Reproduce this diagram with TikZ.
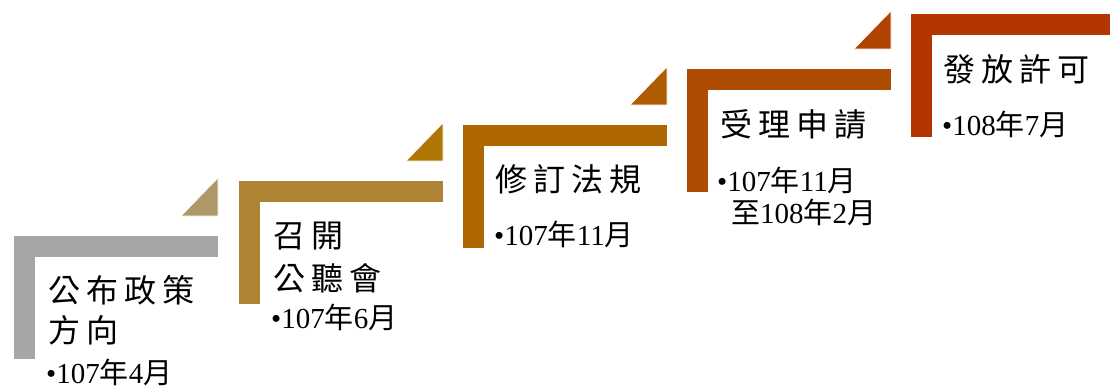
\documentclass[tikz,border=0pt]{standalone}
\usepackage{fontspec}
\setmainfont{Liberation Serif}
\newfontfamily\cjk{Noto Sans CJK TC}
\definecolor{barA}{HTML}{A6A6A6}
\definecolor{triA}{HTML}{AE9868}
\definecolor{barB}{HTML}{AE8434}
\definecolor{triB}{HTML}{AE7602}
\definecolor{barC}{HTML}{AD6600}
\definecolor{triC}{HTML}{AF5C02}
\definecolor{barD}{HTML}{AF4C02}
\definecolor{triD}{HTML}{B14300}
\definecolor{barE}{HTML}{B33500}
\definecolor{triE}{HTML}{B52C00}
\newcommand\stepshape[4]{%
  \fill[#3,draw=white,line width=0.6pt] (#1,#2) -- ++(205,0) -- ++(0,22) -- ++(-183,0) -- ++(0,102) -- ++(-22,0) -- cycle;
  \fill[#4,draw=white,line width=0.6pt] (#1+205,#2-19) -- ++(0,-38) -- ++(-37,38) -- cycle;
}
\newcommand\cj[1]{{\cjk #1}}
\newcommand\ks{\kern6pt }
\tikzset{
  titletext/.style={anchor=base west, inner sep=0pt, font=\cjk\fontsize{32}{38}\selectfont},
  datetext/.style={anchor=base west, inner sep=0pt, font=\fontsize{29}{33}\selectfont}
}
\begin{document}
\begin{tikzpicture}[x=1pt,y=-1pt]
\useasboundingbox (0,0) rectangle (1110,388);
\begin{scope}
\clip (0,0) rectangle (1110,388);
\stepshape{13}{235}{barA}{triA}
\stepshape{238}{180}{barB}{triB}
\stepshape{462}{124}{barC}{triC}
\stepshape{686}{68}{barD}{triD}
\stepshape{910}{13}{barE}{triE}
\end{scope}
% step 1
\node[titletext] (t1a) at (48,302) {公\ks 布\ks 政\ks 策};
\node[titletext] (t1b) at (48,342) {方\ks 向};
\node[datetext] (d1) at (46,383) {•107\cj{年}4\cj{月}};
% step 2
\node[titletext] (t2a) at (273,247) {召\ks 開};
\node[titletext] (t2b) at (273,290) {公\ks 聽\ks 會};
\node[datetext] (d2) at (271,328) {•107\cj{年}6\cj{月}};
% step 3
\node[titletext] (t3) at (495,191) {修\ks 訂\ks 法\ks 規};
\node[datetext] (d3) at (494,245) {•107\cj{年}11\cj{月}};
% step 4
\node[titletext] (t4) at (720,136) {受\ks 理\ks 申\ks 請};
\node[datetext] (d4a) at (717,191) {•107\cj{年}11\cj{月}};
\node[datetext] (d4b) at (731,223) {\cj{至}108\cj{年}2\cj{月}};
% step 5
\node[titletext] (t5) at (943,81) {發\ks 放\ks 許\ks 可};
\node[datetext] (d5) at (942,135) {•108\cj{年}7\cj{月}};
\end{tikzpicture}
\end{document}
